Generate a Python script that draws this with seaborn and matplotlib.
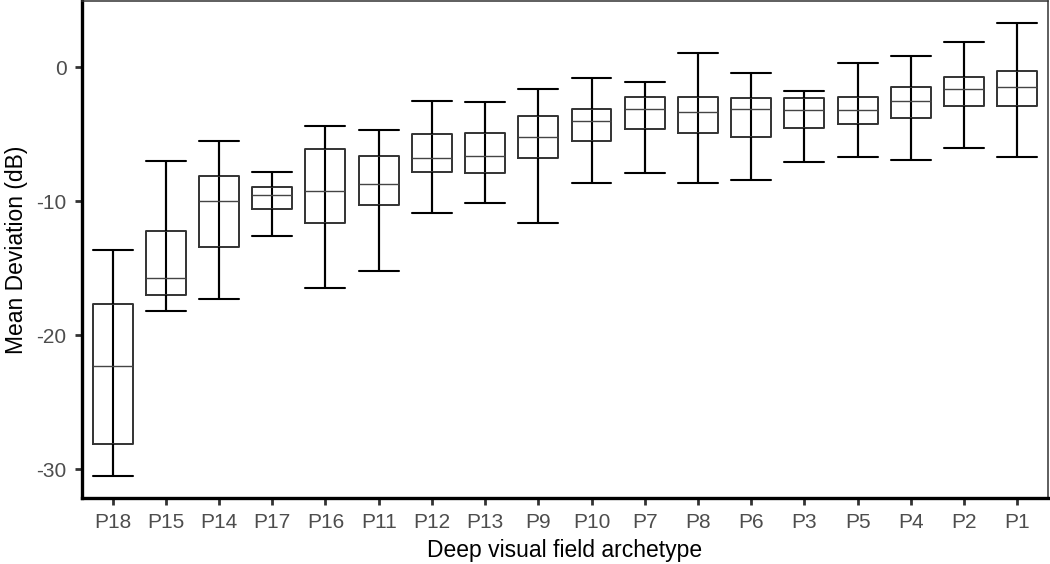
import matplotlib
matplotlib.use("Agg")
import matplotlib.pyplot as plt
import numpy as np
import pandas as pd
import seaborn as sns

# archetypes, ordered as on the x axis
archetypes = ['P18', 'P15', 'P14', 'P17', 'P16', 'P11', 'P12', 'P13', 'P9',
              'P10', 'P7', 'P8', 'P6', 'P3', 'P5', 'P4', 'P2', 'P1']

# five-number summaries (dB)
whisker_low = [-30.5, -18.2, -17.3, -12.6, -16.5, -15.2, -10.9, -10.1, -11.6,
               -8.6, -7.9, -8.6, -8.4, -7.1, -6.7, -6.9, -6.0, -6.7]
q1 = [-28.1, -17.0, -13.4, -10.6, -11.6, -10.3, -7.8, -7.9, -6.8,
      -5.5, -4.6, -4.9, -5.2, -4.5, -4.2, -3.8, -2.9, -2.9]
median = [-22.3, -15.7, -10.0, -9.5, -9.2, -8.7, -6.8, -6.6, -5.2,
          -4.0, -3.1, -3.3, -3.1, -3.2, -3.2, -2.5, -1.6, -1.5]
q3 = [-17.7, -12.2, -8.1, -8.9, -6.1, -6.6, -5.0, -4.9, -3.6,
      -3.1, -2.2, -2.2, -2.3, -2.3, -2.2, -1.5, -0.75, -0.26]
whisker_high = [-13.6, -7.0, -5.5, -7.8, -4.4, -4.7, -2.5, -2.6, -1.6,
                -0.8, -1.1, 1.1, -0.4, -1.75, 0.3, 0.85, 1.9, 3.3]

# long table: 5 points per group so quartiles hit the summary exactly
rows = []
for i, a in enumerate(archetypes):
    for v in (whisker_low[i], q1[i], median[i], q3[i], whisker_high[i]):
        rows.append({'archetype': a, 'md': v})
df = pd.DataFrame(rows)

sns.set_theme(style="ticks")
plt.rcParams['font.family'] = ['Liberation Sans', 'DejaVu Sans']

fig = plt.figure(figsize=(10.5, 5.64), dpi=100)
ax = fig.add_axes([0.078, 0.117, 0.92, 0.881])

sns.boxplot(data=df, x='archetype', y='md', order=archetypes, ax=ax,
            whis=(0, 100), width=0.75, fill=False, linecolor='#333333',
            linewidth=1.2, showfliers=False, capwidths=0.75,
            whiskerprops={'color': 'black', 'linewidth': 1.5},
            capprops={'color': 'black', 'linewidth': 1.5},
            medianprops={'color': '#444444', 'linewidth': 1.0},
            boxprops={'color': '#333333', 'linewidth': 1.4})

# errorbar-style whisker line running through each box
ax.vlines(archetypes, whisker_low, whisker_high, color='black', linewidth=1.5, zorder=1)

ax.set_xlim(-0.577, len(archetypes) - 1 + 0.577)
ax.set_ylim(-32.15, 4.94)
ax.set_yticks([0, -10, -20, -30])
ax.set_yticklabels(['0', '-10', '-20', '-30'])

ax.set_xlabel('Deep visual field archetype', fontsize=16.5, color='black', labelpad=5)
ax.set_ylabel('Mean Deviation (dB)', fontsize=16.5, color='black', labelpad=6)
ax.tick_params(axis='x', pad=6)
ax.tick_params(axis='y', pad=6)
ax.tick_params(axis='both', labelsize=15, labelcolor='#4d4d4d', color='#333333',
               length=5, width=2)

for side in ['left', 'bottom']:
    ax.spines[side].set_linewidth(2.4)
    ax.spines[side].set_color('black')
for side in ['top', 'right']:
    ax.spines[side].set_visible(True)
    ax.spines[side].set_linewidth(1.1)
    ax.spines[side].set_color('#333333')

fig.savefig('out.png', dpi=100)
